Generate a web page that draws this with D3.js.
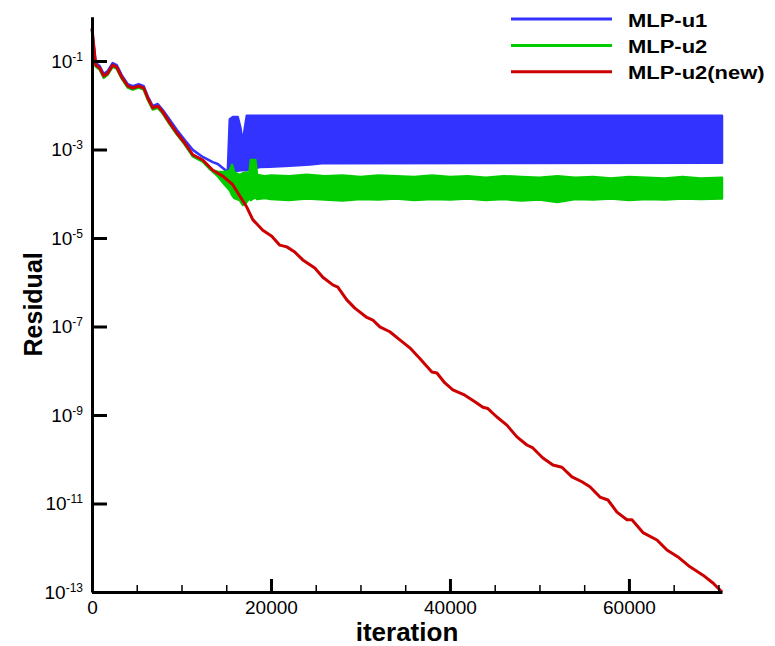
<!DOCTYPE html>
<html lang="en">
<head>
<meta charset="UTF-8">
<title>Residual vs iteration</title>
<script src="https://d3js.org/d3.v7.min.js"></script>
<style>
    body { margin: 0; background: #fff; }
    svg { display: block; font-family: "Liberation Sans", Arial, sans-serif; }
    .axis path, .axis line { stroke: #000; }
    .axis text { font-size: 19px; fill: #000; font-family: "Liberation Sans", Arial, sans-serif; }
    .lab { font-weight: bold; fill: #000; }
</style>
</head>
<body>
<div id="chart"></div>
<script>
// tick values
const xMajorTicks = [0, 20000, 40000, 60000];
const xMinorTicks = [5000, 10000, 15000, 25000, 30000, 35000, 45000, 50000, 55000, 65000, 70000];
const yTickExps = [-1, -3, -5, -7, -9, -11, -13];

const seriesNames = ["MLP-u1", "MLP-u2", "MLP-u2(new)"];
const seriesColors = ["#3333ff", "#00cc00", "#cc0000"];

// MLP-u1: [iteration, low, high]  (low == high where the curve is a single line)
const blueSeries = [
    [0, 0.5, 0.5], [414, 0.090, 0.090], [861, 0.077, 0.077], [1308, 0.051, 0.051],
    [1755, 0.059, 0.059], [2314, 0.090, 0.090], [2761, 0.081, 0.081], [3320, 0.048, 0.048],
    [3991, 0.030, 0.030], [4550, 0.027, 0.027], [5221, 0.030, 0.030], [5780, 0.027, 0.027],
    [6227, 0.016, 0.016], [6786, 0.0096, 0.0096], [7345, 0.0107, 0.0107], [7904, 0.0078, 0.0078],
    [8686, 0.0047, 0.0047], [9469, 0.0028, 0.0028], [10363, 0.00164, 0.00164], [11258, 9.8e-4, 9.8e-4],
    [12376, 6.8e-4, 6.8e-4], [13494, 5.2e-4, 5.2e-4], [14053, 4.7e-4, 4.7e-4], [14612, 3.8e-4, 3.8e-4],
    [15171, 3.1e-4, 3.1e-4], [15395, 3.3e-4, 4.8e-3], [15750, 3.3e-4, 5.4e-3], [16290, 3.3e-4, 5.4e-3],
    [16600, 3.4e-4, 3.0e-3], [16849, 3.4e-4, 1.4e-3], [17072, 3.4e-4, 3.0e-3], [17296, 3.4e-4, 5.8e-3],
    [18749, 4.0e-4, 5.8e-3], [19867, 4.1e-4, 5.8e-3], [22103, 4.3e-4, 5.8e-3], [24339, 4.6e-4, 5.8e-3],
    [25680, 4.9e-4, 5.8e-3], [70400, 5.0e-4, 5.8e-3]
];

// MLP-u2: [iteration, low, high]
const greenSeries = [
    [0, 0.5, 0.5], [414, 0.075, 0.075], [861, 0.064, 0.064], [1308, 0.042, 0.042],
    [1755, 0.049, 0.049], [2314, 0.075, 0.075], [2761, 0.067, 0.067], [3320, 0.040, 0.040],
    [3991, 0.025, 0.025], [4550, 0.0225, 0.0225], [5221, 0.025, 0.025], [5780, 0.0225, 0.0225],
    [6227, 0.0134, 0.0134], [6786, 0.0080, 0.0080], [7345, 0.0088, 0.0088], [7904, 0.0065, 0.0065],
    [8686, 0.0037, 0.0037], [9469, 0.0022, 0.0022], [10363, 0.0013, 0.0013], [11258, 7.0e-4, 7.0e-4],
    [12376, 5.3e-4, 5.3e-4], [13181, 3.6e-4, 3.6e-4], [14053, 2.5e-4, 3.1e-4], [14836, 1.6e-4, 3.1e-4],
    [15395, 1.2e-4, 3.3e-4], [15650, 9.4e-5, 4.5e-4], [15900, 8.0e-5, 3.0e-4], [16513, 7.2e-5, 2.65e-4],
    [16849, 5.6e-5, 2.9e-4], [17184, 6.2e-5, 3.0e-4], [17600, 8.0e-5, 3.0e-4], [17750, 7.2e-5, 5.8e-4],
    [18250, 8.4e-5, 5.8e-4], [18450, 7.6e-5, 2.65e-4], [19308, 8.0e-5, 2.5e-4], [20000, 7.6e-5, 2.6e-4],
    [22000, 7.2e-5, 2.5e-4], [24000, 7.8e-5, 2.7e-4], [26000, 7.4e-5, 2.5e-4], [28000, 7.0e-5, 2.6e-4],
    [30000, 7.6e-5, 2.4e-4], [32000, 7.4e-5, 2.6e-4], [34000, 7.8e-5, 2.5e-4], [36000, 7.2e-5, 2.4e-4],
    [38000, 7.6e-5, 2.6e-4], [40000, 7.4e-5, 2.4e-4], [42000, 7.8e-5, 2.5e-4], [44000, 7.2e-5, 2.3e-4],
    [46000, 7.6e-5, 2.5e-4], [48000, 7.0e-5, 2.4e-4], [50000, 7.4e-5, 2.3e-4], [52000, 6.5e-5, 2.5e-4],
    [54000, 7.6e-5, 2.3e-4], [56000, 7.4e-5, 2.4e-4], [58000, 7.8e-5, 2.2e-4], [60000, 7.2e-5, 2.4e-4],
    [62000, 7.6e-5, 2.3e-4], [64000, 7.4e-5, 2.2e-4], [66000, 7.8e-5, 2.4e-4], [68000, 7.6e-5, 2.2e-4],
    [70400, 7.8e-5, 2.3e-4]
];

// MLP-u2(new): [iteration, residual]
const redSeries = [
    [0, 0.55], [414, 0.081], [861, 0.069], [1308, 0.046], [1755, 0.053], [2314, 0.081],
    [2761, 0.073], [3320, 0.043], [3991, 0.0272], [4550, 0.0245], [5221, 0.0272], [5780, 0.0245],
    [6227, 0.0146], [6786, 0.0087], [7345, 0.0096], [7904, 0.0071], [8686, 0.0040], [9469, 0.00236],
    [10363, 0.0014], [11258, 7.6e-4], [12376, 5.8e-4], [13494, 3.4e-4], [14612, 2.5e-4], [15730, 1.6e-4],
    [16513, 8.9e-5], [17295, 5.0e-5], [17966, 2.6e-5], [19084, 1.5e-5], [20090, 1.1e-5], [20985, 6.9e-6],
    [21767, 6.3e-6], [22662, 4.8e-6], [23556, 3.2e-6], [24898, 2.1e-6], [25792, 1.3e-6], [26910, 8.7e-7],
    [27469, 7.8e-7], [28475, 4.0e-7], [29370, 2.6e-7], [30711, 1.6e-7], [31382, 1.4e-7], [32164, 9.8e-8],
    [33282, 7.6e-8], [34400, 5.0e-8], [35518, 3.3e-8], [36636, 1.9e-8], [37978, 9.4e-9], [38537, 8.9e-9],
    [39432, 5.3e-9], [40326, 3.7e-9], [41668, 2.8e-9], [42786, 2.0e-9], [43680, 1.5e-9], [44239, 1.4e-9],
    [45245, 9.0e-10], [46363, 5.9e-10], [47481, 3.2e-10], [48599, 2.1e-10], [49269, 1.8e-10], [50387, 1.07e-10],
    [51505, 7.4e-11], [52511, 6.6e-11], [53629, 4.0e-11], [54747, 3.1e-11], [55641, 2.4e-11], [56759, 1.4e-11],
    [57654, 1.2e-11], [58660, 6.4e-12], [59778, 4.3e-12], [60337, 4.3e-12], [61567, 2.2e-12], [63132, 1.5e-12],
    [64250, 8.9e-13], [65480, 6.2e-13], [66821, 3.7e-13], [68275, 2.4e-13], [69393, 1.6e-13], [70400, 1.0e-13]
];

const W = 775, H = 646;
const plot = { left: 92, right: 722, top: 16.75, bottom: 592 };

const svg = d3.select("#chart").append("svg")
    .attr("width", W)
    .attr("height", H);

const x = d3.scaleLinear().domain([0, 70400]).range([plot.left, plot.right]);
const y = d3.scaleLog().domain([1e-13, 1]).range([plot.bottom, plot.top]);

// bands (oscillating series), drawn as filled envelopes
const band = d3.area()
    .x(d => x(d[0]))
    .y0(d => y(d[1]))
    .y1(d => y(d[2]));

svg.append("path")
    .datum(blueSeries)
    .attr("d", band)
    .attr("fill", seriesColors[0])
    .attr("stroke", seriesColors[0])
    .attr("stroke-width", 2.5)
    .attr("stroke-linejoin", "round");

svg.append("path")
    .datum(greenSeries)
    .attr("d", band)
    .attr("fill", seriesColors[1])
    .attr("stroke", seriesColors[1])
    .attr("stroke-width", 2.5)
    .attr("stroke-linejoin", "round");

const line = d3.line()
    .x(d => x(d[0]))
    .y(d => y(d[1]));

svg.append("path")
    .datum(redSeries)
    .attr("d", line)
    .attr("fill", "none")
    .attr("stroke", seriesColors[2])
    .attr("stroke-width", 3)
    .attr("stroke-linejoin", "round");

// x axis
const xAxis = svg.append("g")
    .attr("class", "axis")
    .attr("transform", `translate(0,${plot.bottom})`)
    .call(d3.axisBottom(x).tickValues(xMajorTicks).tickSize(-13).tickSizeOuter(0).tickPadding(9).tickFormat(d3.format("d")));
xAxis.selectAll("line").attr("stroke-width", 3);

const xMinor = svg.append("g")
    .attr("class", "axis")
    .attr("transform", `translate(0,${plot.bottom})`)
    .call(d3.axisBottom(x).tickValues(xMinorTicks).tickSize(-7).tickSizeOuter(0).tickFormat(""));
xMinor.select(".domain").remove();
xMinor.selectAll("line").attr("stroke-width", 1.5);
xAxis.select(".domain").attr("stroke-width", 3);

// y axis
const yAxis = svg.append("g")
    .attr("class", "axis")
    .attr("transform", `translate(${plot.left},0)`)
    .call(d3.axisLeft(y).tickValues(yTickExps.map(e => Math.pow(10, e))).tickSize(-15).tickSizeOuter(0).tickPadding(9).tickFormat(""));
yAxis.select(".domain").attr("stroke-width", 3);
yAxis.selectAll("line").attr("stroke-width", 3);

yAxis.selectAll(".tick text").each(function(d) {
    const t = d3.select(this);
    t.append("tspan").text("10");
    t.append("tspan")
        .attr("dy", "-0.55em")
        .attr("font-size", "12px")
        .text(Math.round(Math.log10(d)));
});

// axis titles
svg.append("text")
    .attr("class", "lab")
    .attr("x", (plot.left + plot.right) / 2)
    .attr("y", 641)
    .attr("text-anchor", "middle")
    .attr("font-size", "26px")
    .text("iteration");

svg.append("text")
    .attr("class", "lab")
    .attr("transform", `translate(42,${(plot.top + plot.bottom) / 2}) rotate(-90)`)
    .attr("text-anchor", "middle")
    .attr("font-size", "25px")
    .text("Residual");

// legend
const legend = svg.append("g").attr("transform", "translate(511,19)");
seriesNames.forEach((name, i) => {
    const g = legend.append("g").attr("transform", `translate(0,${i * 26.4})`);
    g.append("line")
        .attr("x1", 0).attr("x2", 101)
        .attr("y1", 0).attr("y2", 0)
        .attr("stroke", seriesColors[i])
        .attr("stroke-width", 3);
    g.append("text")
        .attr("class", "lab")
        .attr("transform", "translate(117,7.5) scale(1.22,1)")
        .attr("font-size", "18px")
        .text(name);
});
</script>
</body>
</html>
